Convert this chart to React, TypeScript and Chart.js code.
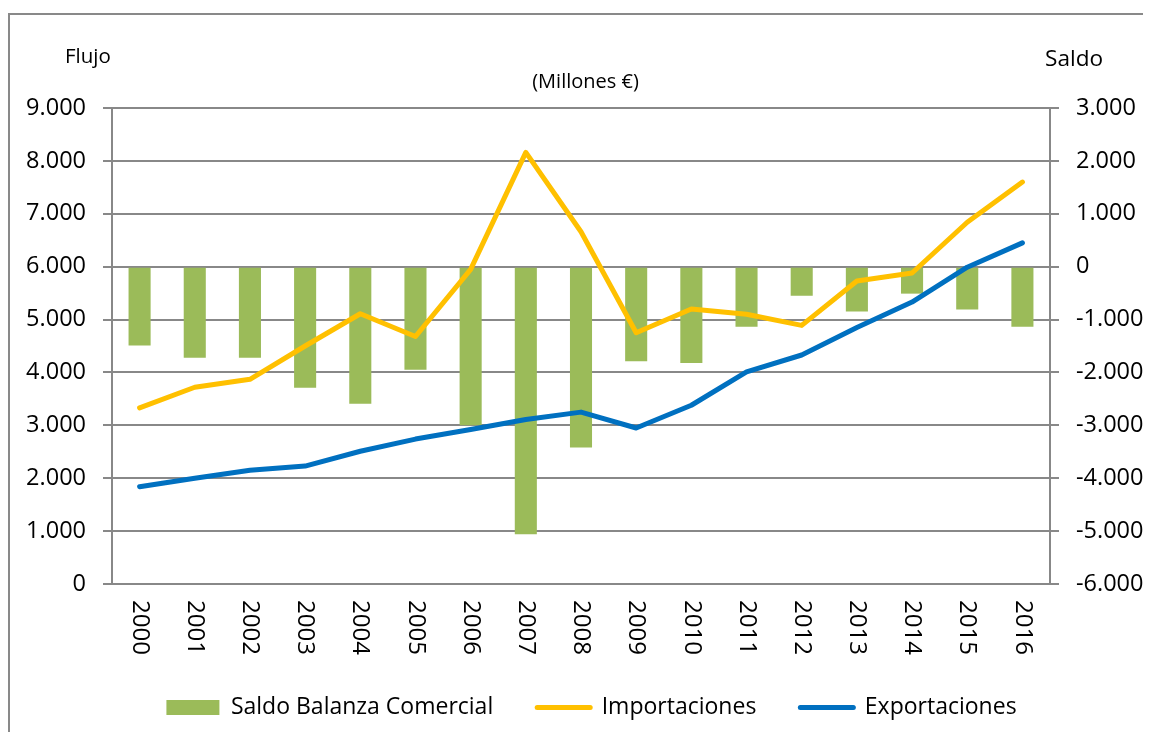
import React, { useEffect, useRef } from "react";
import { Chart, registerables } from "chart.js";

Chart.register(...registerables);

const years = ["2000","2001","2002","2003","2004","2005","2006","2007","2008","2009","2010","2011","2012","2013","2014","2015","2016"];
const saldo = [-1490, -1720, -1720, -2290, -2590, -1950, -3000, -5060, -3420, -1790, -1820, -1135, -550, -850, -510, -810, -1135];
const importaciones = [3330, 3720, 3870, 4500, 5110, 4680, 5950, 8160, 6660, 4750, 5200, 5100, 4890, 5730, 5880, 6840, 7600];
const exportaciones = [1840, 2000, 2150, 2230, 2510, 2740, 2920, 3110, 3250, 2950, 3380, 4010, 4330, 4850, 5330, 5990, 6450];

const FONT = "'Open Sans', sans-serif";
const GRID = "#888888";

const fmt = (v: number) => {
  const s = Math.abs(v).toString().replace(/\B(?=(\d{3})+(?!\d))/g, ".");
  return (v < 0 ? "-" : "") + s;
};

const textPlugin = {
  id: "customText",
  afterDraw(chart: any) {
    const ctx = chart.ctx;
    const xs = chart.scales.x;
    ctx.save();
    ctx.fillStyle = "#000";
    // rotated category labels (reading top to bottom)
    ctx.font = `24px ${FONT}`;
    years.forEach((lab, i) => {
      const x = xs.getPixelForValue(i);
      ctx.save();
      ctx.translate(x, 585);
      ctx.rotate(Math.PI / 2);
      ctx.textAlign = "left";
      ctx.textBaseline = "middle";
      ctx.fillText(lab, 0, 0);
      ctx.restore();
    });
    ctx.textBaseline = "alphabetic";
    ctx.textAlign = "left";
    ctx.font = `20.5px ${FONT}`;
    ctx.fillText("Flujo", 55, 48);
    ctx.font = `22.6px ${FONT}`;
    ctx.fillText("Saldo", 1035, 51);
    ctx.textAlign = "center";
    ctx.font = `20px ${FONT}`;
    ctx.fillText("(Millones €)", 575.5, 73);
    ctx.restore();
  },
};

export default function App() {
  const ref = useRef<HTMLCanvasElement>(null);

  useEffect(() => {
    document.documentElement.style.overflow = "hidden";
    document.body.style.overflow = "hidden";
    const canvas = ref.current!;
    const tickFont = { family: FONT, size: 23.5 };
    const chart = new Chart(canvas, {
      type: "bar",
      data: {
        labels: years,
        datasets: [
          {
            type: "bar",
            label: "Saldo Balanza Comercial",
            data: saldo,
            backgroundColor: "#9BBB59",
            borderColor: "#9BBB59",
            borderWidth: 0,
            yAxisID: "y1",
            barPercentage: 0.4,
            categoryPercentage: 1,
            order: 3,
          },
          {
            type: "line",
            label: "Importaciones",
            data: importaciones,
            borderColor: "#FFC000",
            backgroundColor: "#FFC000",
            borderWidth: 5,
            pointRadius: 0,
            tension: 0,
            borderCapStyle: "round",
            borderJoinStyle: "round",
            yAxisID: "y",
            order: 2,
          },
          {
            type: "line",
            label: "Exportaciones",
            data: exportaciones,
            borderColor: "#0070C0",
            backgroundColor: "#0070C0",
            borderWidth: 5,
            pointRadius: 0,
            tension: 0,
            borderCapStyle: "round",
            borderJoinStyle: "round",
            yAxisID: "y",
            order: 1,
          },
        ] as any,
      },
      options: {
        responsive: false,
        animation: false,
        layout: { padding: { top: 93, left: 0, right: 0, bottom: 3 } },
        plugins: {
          tooltip: { enabled: false },
          legend: {
            position: "bottom",
            labels: {
              usePointStyle: true,
              pointStyleWidth: 53,
              boxHeight: 15,
              padding: 44,
              color: "#000",
              font: { family: FONT, size: 23 },
              generateLabels: (ch: any) =>
                ch.data.datasets.map((ds: any, i: number) => ({
                  text: ds.label,
                  fillStyle: ds.backgroundColor,
                  strokeStyle: ds.borderColor,
                  lineWidth: i === 0 ? 0 : 5,
                  pointStyle: i === 0 ? "rect" : "line",
                  lineCap: "round",
                  hidden: false,
                  datasetIndex: i,
                  fontColor: "#000",
                })),
            },
          },
        },
        scales: {
          x: {
            offset: true,
            grid: { display: false },
            border: { display: false },
            ticks: { display: false },
            afterFit: (s: any) => {
              s.height = 68;
            },
          },
          y: {
            position: "left",
            min: 0,
            max: 9000,
            ticks: { stepSize: 1000, padding: 17, color: "#000", font: tickFont, callback: (v: any) => fmt(Number(v)) },
            grid: { color: GRID, lineWidth: 2, tickLength: 9, drawTicks: true },
            border: { display: true, color: GRID, width: 2 },
            afterFit: (s: any) => {
              s.width = 102;
            },
          },
          y1: {
            position: "right",
            min: -6000,
            max: 3000,
            ticks: { stepSize: 1000, padding: 17, color: "#000", font: tickFont, callback: (v: any) => fmt(Number(v)) },
            grid: { drawOnChartArea: false, color: GRID, lineWidth: 2, tickLength: 9, drawTicks: true },
            border: { display: true, color: GRID, width: 2 },
            afterFit: (s: any) => {
              s.width = 123;
            },
          },
        },
      } as any,
      plugins: [textPlugin],
    });
    return () => chart.destroy();
  }, []);

  return (
    <div style={{ paddingTop: 5, width: 1165 }}>
      <div
        style={{
          width: 1165,
          height: 719,
          borderLeft: "2px solid #898989",
          borderTop: "2px solid #898989",
          boxSizing: "border-box",
          background: "#fff",
        }}
      >
        <canvas ref={ref} width={1163} height={717} style={{ display: "block" }} />
      </div>
    </div>
  );
}
